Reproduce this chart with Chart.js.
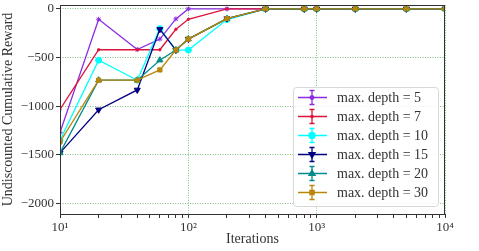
<!DOCTYPE html>
<html>
<head>
<meta charset="utf-8">
<script src="https://cdn.jsdelivr.net/npm/chart.js@4/dist/chart.umd.min.js"></script>
<style>
  html, body { margin: 0; padding: 0; background: #fff; }
  #wrap { width: 479px; height: 251px; position: relative; }
</style>
</head>
<body>
<div id="wrap"><canvas id="reward"></canvas></div>
<script>
(function(){
  const iterations = [10, 20, 40, 60, 80, 100, 200, 400, 800, 1000, 2000, 5000, 10000];

  const depth5  = [-1270, -107, -417, -310, -103, 0, 0, 0, 0, 0, 0, 0, 0];
  const depth7  = [-1033, -420, -420, -420, -210, -107, 0, 0, 0, 0, 0, 0, 0];
  const depth10 = [-1350, -527, -733, -203, -423, -423, -110, 0, 0, 0, 0, 0, 0];
  const depth15 = [-1480, -1037, -833, -210, -423, -310, -100, 0, 0, 0, 0, 0, 0];
  const depth20 = [-1480, -733, -733, -527, -423, -310, -100, 0, 0, 0, 0, 0, 0];
  const depth30 = [-1367, -733, -733, -627, -423, -310, -100, 0, 0, 0, 0, 0, 0];

  const labels = ['max. depth = 5', 'max. depth = 7', 'max. depth = 10',
                  'max. depth = 15', 'max. depth = 20', 'max. depth = 30'];
  const yTicks = [-2000, -1500, -1000, -500, 0];

  const series = [depth5, depth7, depth10, depth15, depth20, depth30];
  const colors = ['#8a2be2', '#dc143c', '#00ffff', '#000080', '#008b8b', '#b8860b'];
  const markers = [
    { style: 'star', radius: 2.5, rotation: 0 },
    { style: 'circle', radius: 1.2, rotation: 0 },
    { style: 'circle', radius: 3, rotation: 0 },
    { style: 'triangle', radius: 3.5, rotation: 180 },
    { style: 'triangle', radius: 3.5, rotation: 0 },
    { style: 'rect', radius: 3, rotation: 0 },
  ];

  const serif = "'Liberation Serif', 'Times New Roman', serif";
  const grid = 'rgba(60,160,60,0.65)';
  const sup = { 1: '\u00b9', 2: '\u00b2', 3: '\u00b3', 4: '\u2074' };

  const datasets = series.map((vals, i) => ({
    label: labels[i],
    data: iterations.map((it, j) => ({ x: it, y: vals[j] })),
    borderColor: colors[i],
    backgroundColor: colors[i],
    borderWidth: 1.3,
    pointStyle: markers[i].style,
    pointRadius: markers[i].radius,
    pointRotation: markers[i].rotation,
    pointBorderWidth: 1,
    tension: 0,
    order: series.length - i,
  }));

  // box round the plot, like the four spines
  const frame = {
    id: 'frame',
    afterDatasetsDraw(chart) {
      const a = chart.chartArea, c = chart.ctx;
      c.save();
      c.strokeStyle = '#333';
      c.lineWidth = 1;
      c.strokeRect(Math.round(a.left) + 0.5, Math.round(a.top) + 0.5,
                   Math.round(a.right - a.left) - 1, Math.round(a.bottom - a.top));
      c.restore();
    }
  };

  // legend with error-bar handles, drawn inside the lower right corner
  const errLegend = {
    id: 'errLegend',
    afterDraw(chart) {
      const c = chart.ctx;
      const bx = 293, by = 87, bw = 145, bh = 119, rowH = 19;
      c.save();
      c.beginPath();
      c.roundRect(bx + 0.5, by + 0.5, bw, bh, 3);
      c.fillStyle = 'rgba(255,255,255,0.85)';
      c.fill();
      c.strokeStyle = '#d8d8d8';
      c.lineWidth = 1;
      c.stroke();
      c.font = '14px ' + serif;
      c.textBaseline = 'middle';
      chart.data.datasets.forEach((ds, i) => {
        const y = by + 10.5 + i * rowH;
        const cx = 312;
        c.strokeStyle = ds.borderColor;
        c.lineWidth = 1.3;
        c.beginPath();
        c.moveTo(298, y); c.lineTo(327, y);
        c.moveTo(cx, y - 7); c.lineTo(cx, y + 7);
        c.moveTo(cx - 2.5, y - 7); c.lineTo(cx + 2.5, y - 7);
        c.moveTo(cx - 2.5, y + 7); c.lineTo(cx + 2.5, y + 7);
        c.stroke();
        c.fillStyle = ds.backgroundColor;
        Chart.helpers.drawPoint(c, {
          pointStyle: ds.pointStyle, radius: ds.pointRadius,
          rotation: ds.pointRotation, borderWidth: 1
        }, cx, y);
        c.fillStyle = '#333';
        c.fillText(ds.label, 337, y + 1);
      });
      c.restore();
    }
  };

  new Chart(document.getElementById('reward'), {
    type: 'line',
    data: { datasets: datasets },
    plugins: [frame, errLegend],
    options: {
      responsive: true,
      maintainAspectRatio: false,
      animation: false,
      layout: { padding: { top: 1, right: 34, left: 0, bottom: 0 } },
      plugins: { legend: { display: false }, tooltip: { enabled: false } },
      scales: {
        x: {
          type: 'logarithmic',
          min: 10,
          max: 10000,
          afterBuildTicks(scale) {
            const t = [];
            for (let p = 10; p < 10000; p *= 10) {
              for (let m = 1; m < 10; m++) t.push({ value: m * p, major: m === 1 });
            }
            t.push({ value: 10000, major: true });
            scale.ticks = t;
          },
          afterFit(scale) {
            scale.height = 37;
            scale.paddingLeft = 0;
            scale.paddingRight = 0;
          },
          grid: {
            color: ctx => (ctx.tick && ctx.tick.major) ? grid : 'rgba(0,0,0,0)',
            lineWidth: 1,
            tickColor: '#333',
            tickLength: 4,
          },
          border: { display: false, dash: [1, 1.5] },
          ticks: {
            autoSkip: false,
            maxRotation: 0,
            padding: 2,
            color: '#333',
            font: { family: serif, size: 13 },
            callback(v) {
              const e = Math.round(Math.log10(v));
              return Math.abs(Math.pow(10, e) - v) < 1e-6 ? '10' + sup[e] : '';
            }
          },
          title: {
            display: true,
            text: 'Iterations',
            color: '#333',
            font: { family: serif, size: 14 },
            padding: { top: 0, bottom: 3 }
          }
        },
        y: {
          min: -2108,
          max: 40,
          afterBuildTicks(scale) {
            scale.ticks = yTicks.map(v => ({ value: v }));
          },
          afterFit(scale) {
            scale.width = 60;
            scale.paddingTop = 0;
            scale.paddingBottom = 0;
          },
          grid: {
            color: grid,
            lineWidth: 1,
            tickColor: '#333',
            tickLength: 4,
          },
          border: { display: false, dash: [1, 1.5] },
          ticks: {
            padding: 2,
            color: '#333',
            font: { family: serif, size: 13 },
            callback: v => v === 0 ? '0' : '\u2212' + Math.abs(v)
          },
          title: {
            display: true,
            text: 'Undiscounted Cumulative Reward',
            color: '#333',
            font: { family: serif, size: 14 },
            padding: { top: 0, bottom: 0 }
          }
        }
      }
    }
  });
})();
</script>
</body>
</html>
